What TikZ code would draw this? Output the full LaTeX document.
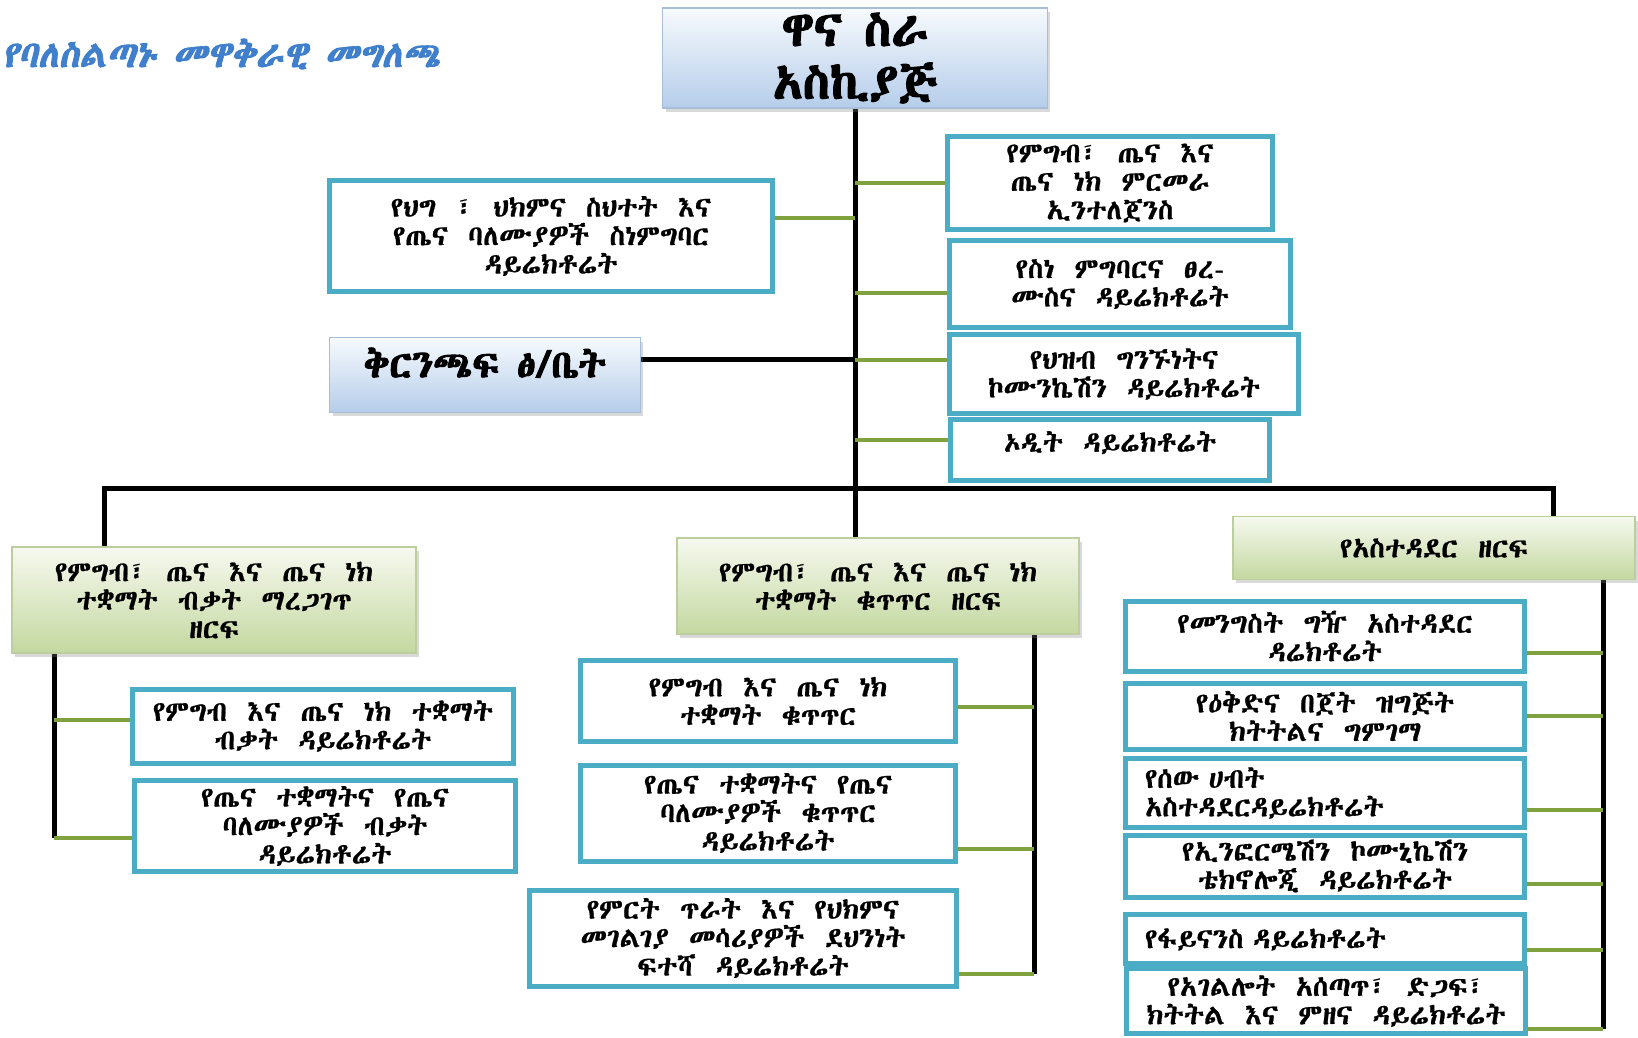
\documentclass[tikz,border=0pt]{standalone}
\usepackage{fontspec}
\IfFontExistsTF{Abyssinica SIL}{\def\geezname{Abyssinica SIL}}{%
 \IfFontExistsTF{FreeSerif.otf}{\def\geezname{FreeSerif.otf}}{%
  \IfFontExistsTF{FreeSerif}{\def\geezname{FreeSerif}}{%
   \IfFontExistsTF{Noto Sans Ethiopic}{\def\geezname{Noto Sans Ethiopic}}{\def\geezname{DejaVu Sans}}}}}
\setmainfont{\geezname}[AutoFakeBold=2.5,AutoFakeSlant=0.2]
\newfontfamily\unitfont{\geezname}[WordSpace=1.6,FakeBold=0.8]
\newfontfamily\headfont{\geezname}[FakeBold=2.5]
\usepackage{tikz}
\usetikzlibrary{shadows}
\definecolor{unitblue}{HTML}{4BACC6}
\definecolor{twiggreen}{HTML}{7FA23F}
\definecolor{titleblue}{HTML}{3F7FCB}
\definecolor{headtop}{HTML}{F7FAFD}
\definecolor{headbottom}{HTML}{B5CDEA}
\definecolor{headline}{HTML}{A7BED8}
\definecolor{sectortop}{HTML}{F6F9EF}
\definecolor{sectorbottom}{HTML}{C4D8A0}
\definecolor{sectorline}{HTML}{BCCD9E}
\tikzstyle{Unit}=[shape=rectangle, fill=white, line width=1mm, draw=unitblue, align=center, inner sep=2pt, text=black, font=\unitfont\fontsize{16}{16.2}\selectfont]
\tikzstyle{Sector}=[shape=rectangle, line width=0.3mm, draw=sectorline, top color=sectortop, bottom color=sectorbottom, align=center, inner sep=2pt, text=black, drop shadow={shadow xshift=0.6mm, shadow yshift=-0.8mm, opacity=0.3}, font=\unitfont\fontsize{16}{16.2}\selectfont]
\tikzstyle{Head}=[shape=rectangle, line width=0.3mm, draw=headline, top color=headtop, bottom color=headbottom, align=center, inner sep=2pt, text=black, drop shadow={shadow xshift=0.6mm, shadow yshift=-0.8mm, opacity=0.3}]
\tikzstyle{trunk}=[line width=1mm, draw=black]
\tikzstyle{twig}=[line width=0.8mm, draw=twiggreen]
\pgfdeclarelayer{nodelayer}
\pgfdeclarelayer{edgelayer}
\pgfsetlayers{edgelayer, nodelayer, main}

\begin{document}
\begin{tikzpicture}[x=0.02cm, y=-0.02cm]
	\useasboundingbox (0, 0) rectangle (1638, 1037);
	\begin{pgfonlayer}{nodelayer}
		\node [anchor=west, inner sep=0pt, text=titleblue, font=\fontsize{21}{24}\selectfont\bfseries\itshape] (title) at (2, 54) {የባለስልጣኑ መዋቅራዊ መግለጫ};
		\node [style=Head, minimum width=7.7cm, minimum height=2cm, font=\headfont\fontsize{28}{30}\selectfont] (ceo) at (855, 58) {ዋና ስራ\\አስኪያጅ};
		% top units
		\node [style=Unit, minimum width=8.86cm, minimum height=2.24cm] (law) at (551, 236) {የህግ ፣ ህክምና ስህተት እና\\የጤና ባለሙያዎች ስነምግባር\\ዳይሬክቶሬት};
		\node [style=Head, minimum width=6.22cm, minimum height=1.5cm, text depth=0.5cm, font=\headfont\fontsize{22}{24}\selectfont] (branch) at (485, 375) {ቅርንጫፍ ፅ/ቤት};
		\node [style=Unit, minimum width=6.5cm, minimum height=1.86cm] (intel) at (1110, 183) {የምግብ፣ ጤና እና\\ጤና ነክ ምርመራ\\ኢንተለጀንስ};
		\node [style=Unit, minimum width=6.82cm, minimum height=1.74cm] (ethics) at (1120, 284) {የስነ ምግባርና ፀረ-\\ሙስና ዳይሬክቶሬት};
		\node [style=Unit, minimum width=6.98cm, minimum height=1.58cm] (public) at (1124, 374) {የህዝብ ግንኙነትና\\ኮሙንኬሽን ዳይሬክቶሬት};
		\node [style=Unit, minimum width=6.4cm, minimum height=1.24cm, text depth=0.34cm] (audit) at (1110, 450) {ኦዲት ዳይሬክቶሬት};
		% sectors
		\node [style=Sector, minimum width=8.08cm, minimum height=2.12cm] (lsec) at (214, 600) {የምግብ፣ ጤና እና ጤና ነክ\\ተቋማት ብቃት ማረጋገጥ\\ዘርፍ};
		\node [style=Sector, minimum width=8.04cm, minimum height=1.92cm] (msec) at (878, 586) {የምግብ፣ ጤና እና ጤና ነክ\\ተቋማት ቁጥጥር ዘርፍ};
		\node [style=Sector, minimum width=8.04cm, minimum height=1.26cm] (rsec) at (1434, 548) {የአስተዳደር ዘርፍ};
		% left sector units
		\node [style=Unit, minimum width=7.64cm, minimum height=1.48cm] (lc1) at (323, 726) {የምግብ እና ጤና ነክ ተቋማት\\ብቃት ዳይሬክቶሬት};
		\node [style=Unit, minimum width=7.62cm, minimum height=1.82cm] (lc2) at (325, 826) {የጤና ተቋማትና የጤና\\ባለሙያዎች ብቃት\\ዳይሬክቶሬት};
		% middle sector units
		\node [style=Unit, minimum width=7.5cm, minimum height=1.62cm] (mc1) at (768, 701) {የምግብ እና ጤና ነክ\\ተቋማት ቁጥጥር};
		\node [style=Unit, minimum width=7.5cm, minimum height=1.92cm] (mc2) at (768, 813) {የጤና ተቋማትና የጤና\\ባለሙያዎች ቁጥጥር\\ዳይሬክቶሬት};
		\node [style=Unit, minimum width=8.54cm, minimum height=1.92cm] (mc3) at (743, 938) {የምርት ጥራት እና የህክምና\\መገልገያ መሳሪያዎች ደህንነት\\ፍተሻ ዳይሬክቶሬት};
		% right sector units
		\node [style=Unit, minimum width=7.98cm, minimum height=1.4cm] (rc1) at (1325, 636) {የመንግስት ግዥ አስተዳደር\\ዳሬክቶሬት};
		\node [style=Unit, minimum width=7.98cm, minimum height=1.32cm] (rc2) at (1325, 716) {የዕቅድና በጀት ዝግጅት\\ክትትልና ግምገማ};
		\node [style=Unit, minimum width=7.98cm, minimum height=1.38cm, text width=7.2cm, align=left] (rc3) at (1325, 793) {የሰው ሀብት\\አስተዳደርዳይሬክቶሬት};
		\node [style=Unit, minimum width=7.98cm, minimum height=1.24cm] (rc4) at (1325, 866) {የኢንፎርሜሽን ኮሙኒኬሽን\\ቴክኖሎጂ ዳይሬክቶሬት};
		\node [style=Unit, minimum width=7.98cm, minimum height=0.98cm, text width=7.2cm, align=left] (rc5) at (1325, 939) {የፋይናንስ ዳይሬክቶሬት};
		\node [style=Unit, minimum width=7.98cm, minimum height=1.3cm] (rc6) at (1326, 1001) {የአገልሎት አሰጣጥ፣ ድጋፍ፣\\ክትትል እና ምዘና ዳይሬክቶሬት};
		\coordinate (busL) at (104, 488);
		\coordinate (busR) at (1553, 488);
		\coordinate (lspine) at (54, 0);
		\coordinate (mspine) at (1034, 0);
		\coordinate (rspine) at (1603, 0);
	\end{pgfonlayer}
	\begin{pgfonlayer}{edgelayer}
		\draw [style=trunk] (ceo.south) to (ceo.south |- msec.north);
		\draw [style=trunk] ([yshift=3.2mm]branch.east) to ([yshift=3.2mm]branch.east -| ceo.south);
		\draw [style=twig] ([yshift=3.6mm]law.east) to ([yshift=3.6mm]law.east -| ceo.south);
		\draw [style=twig] (intel.west -| ceo.south) to (intel.west);
		\draw [style=twig] ([yshift=-1.8mm]ethics.west -| ceo.south) to ([yshift=-1.8mm]ethics.west);
		\draw [style=twig] ([yshift=2.8mm]public.west -| ceo.south) to ([yshift=2.8mm]public.west);
		\draw [style=twig] ([yshift=2mm]audit.west -| ceo.south) to ([yshift=2mm]audit.west);
		% bus
		\draw [style=trunk] (busL |- lsec.north) to (busL) to (busR) to (busR |- rsec.north);
		% left sector
		\draw [style=trunk] (lspine |- lsec.south) to ([yshift=-2.4mm]lc2.west -| lspine);
		\draw [style=twig] ([yshift=1.2mm]lc1.west -| lspine) to ([yshift=1.2mm]lc1.west);
		\draw [style=twig] ([yshift=-2.4mm]lc2.west -| lspine) to ([yshift=-2.4mm]lc2.west);
		% middle sector
		\draw [style=trunk] (mspine |- msec.south) to ([yshift=-7.2mm]mc3.east -| mspine);
		\draw [style=twig] ([yshift=-1.2mm]mc1.east) to ([yshift=-1.2mm]mc1.east -| mspine);
		\draw [style=twig] ([yshift=-7.2mm]mc2.east) to ([yshift=-7.2mm]mc2.east -| mspine);
		\draw [style=twig] ([yshift=-7.2mm]mc3.east) to ([yshift=-7.2mm]mc3.east -| mspine);
		% right sector
		\draw [style=trunk] (rspine |- rsec.south) to ([yshift=-5.6mm]rc6.east -| rspine);
		\draw [style=twig] ([yshift=-3.4mm]rc1.east) to ([yshift=-3.4mm]rc1.east -| rspine);
		\draw [style=twig] (rc2.east) to (rc2.east -| rspine);
		\draw [style=twig] ([yshift=-3.4mm]rc3.east) to ([yshift=-3.4mm]rc3.east -| rspine);
		\draw [style=twig] ([yshift=-3.6mm]rc4.east) to ([yshift=-3.6mm]rc4.east -| rspine);
		\draw [style=twig] ([yshift=-2.2mm]rc5.east) to ([yshift=-2.2mm]rc5.east -| rspine);
		\draw [style=twig] ([yshift=-5.6mm]rc6.east) to ([yshift=-5.6mm]rc6.east -| rspine);
	\end{pgfonlayer}
\end{tikzpicture}
\end{document}
